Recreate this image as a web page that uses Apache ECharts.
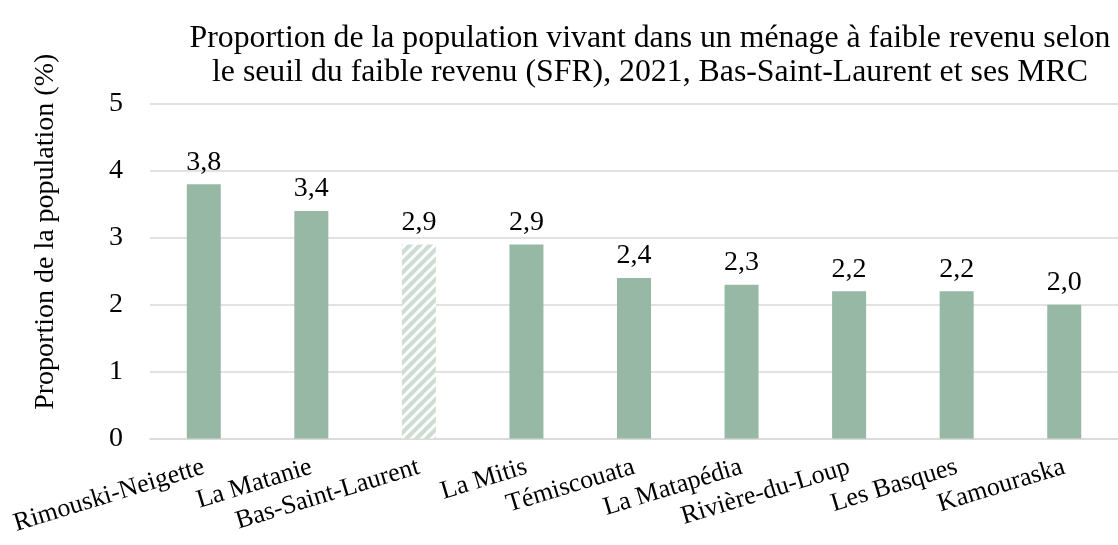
<!DOCTYPE html>
<html>
<head>
<meta charset="utf-8">
<script src="https://cdn.jsdelivr.net/npm/echarts@6/dist/echarts.min.js"></script>
<style>
  html, body { margin: 0; padding: 0; background: #fff; }
  #chart { width: 1118px; height: 545px; }
</style>
</head>
<body>
<div id="chart"></div>
<script>
// données
let regions = ['Rimouski-Neigette', 'La Matanie', 'Bas-Saint-Laurent', 'La Mitis', 'Témiscouata',
               'La Matapédia', 'Rivière-du-Loup', 'Les Basques', 'Kamouraska'];
let proportions = [3.8, 3.4, 2.9, 2.9, 2.4, 2.3, 2.2, 2.2, 2.0];
let yTicks = [0, 1, 2, 3, 4, 5];
let regionTotal = 'Bas-Saint-Laurent';

// motif hachuré pour la région entière
function hatch() {
    let c = document.createElement('canvas');
    c.width = 10; c.height = 10;
    let ctx = c.getContext('2d');
    ctx.fillStyle = '#CEDDD4';
    ctx.fillRect(0, 0, 10, 10);
    ctx.strokeStyle = '#fff';
    ctx.lineWidth = 3;
    ctx.beginPath();
    ctx.moveTo(-2, 12); ctx.lineTo(12, -2);
    ctx.moveTo(-7, 7); ctx.lineTo(7, -7);
    ctx.moveTo(3, 17); ctx.lineTo(17, 3);
    ctx.stroke();
    return c;
}

let barData = proportions.map(function (v, i) {
    let item = { value: v };
    if (regions[i] === regionTotal) {
        item.itemStyle = { color: { image: hatch(), repeat: 'repeat' } };
    }
    return item;
});

let font = '"Liberation Serif", "Times New Roman", serif';

let option = {
    animation: false,
    title: {
        text: 'Proportion de la population vivant dans un ménage à faible revenu selon\nle seuil du faible revenu (SFR), 2021, Bas-Saint-Laurent et ses MRC',
        left: 645,
        textAlign: 'center',
        top: 17,
        textStyle: { fontFamily: font, fontWeight: 'normal', fontSize: 31.8, color: '#000', lineHeight: 34 }
    },
    grid: { left: 150, top: 104, width: 978, height: 334.5 },
    xAxis: {
        type: 'category',
        data: regions,
        axisLine: { lineStyle: { color: '#D9D9D9', width: 1.5 } },
        axisTick: { show: false },
        axisLabel: {
            interval: 0,
            rotate: 17,
            margin: 28,
            fontFamily: font,
            fontSize: 26,
            color: '#000'
        }
    },
    yAxis: {
        type: 'value',
        min: yTicks[0],
        max: yTicks[yTicks.length - 1],
        interval: 1,
        name: 'Proportion de la population (%)',
        nameLocation: 'middle',
        nameGap: 90,
        nameTextStyle: { fontFamily: font, fontSize: 28, color: '#000', padding: [0, 0, 0, 79] },
        axisLabel: { fontFamily: font, fontSize: 28, color: '#000', margin: 27 },
        splitLine: { lineStyle: { color: '#D9D9D9', width: 1.5 } },
        axisLine: { show: false },
        axisTick: { show: false }
    },
    series: [{
        type: 'bar',
        data: barData,
        barWidth: 34,
        itemStyle: { color: '#97B8A5' },
        label: {
            show: true,
            position: 'top',
            distance: 8,
            fontFamily: font,
            fontSize: 28,
            color: '#000',
            formatter: function (p) { return p.value.toFixed(1).replace('.', ','); }
        }
    }]
};

let chart = echarts.init(document.getElementById('chart'));
chart.setOption(option);
</script>
</body>
</html>
